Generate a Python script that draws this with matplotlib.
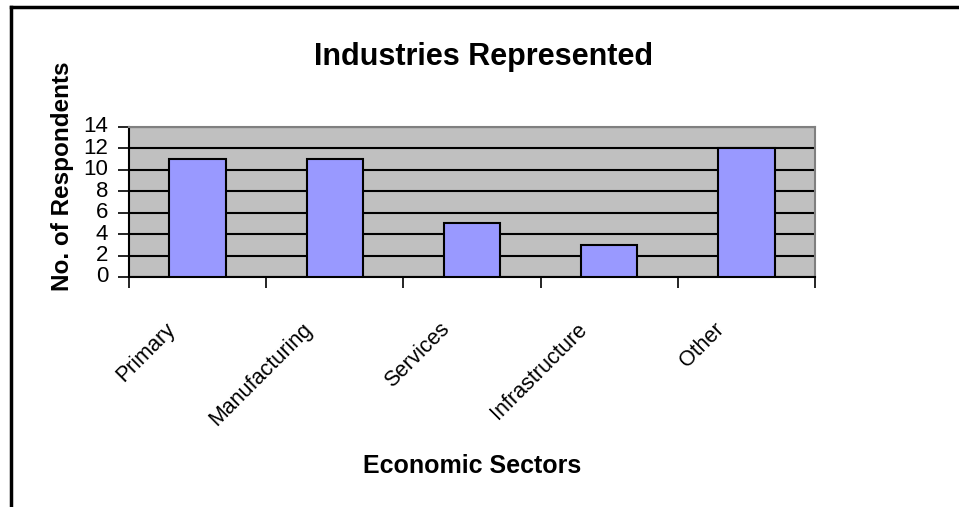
import matplotlib
matplotlib.use('Agg')
import matplotlib.pyplot as plt
import matplotlib.transforms as mtransforms
from matplotlib.lines import Line2D

# survey counts per sector
sectors = ['Primary', 'Manufacturing', 'Services', 'Infrastructure', 'Other']
respondents = [11, 11, 5, 3, 12]
y_ticks = [0, 2, 4, 6, 8, 10, 12, 14]

plt.rcParams['font.family'] = ['Liberation Sans', 'DejaVu Sans']

fig = plt.figure(figsize=(9.59, 5.07), dpi=100)
ax = fig.add_axes([129 / 959, 1 - 277 / 507, (815 - 129) / 959, (277 - 127) / 507])

# outer chart frame (only top and left edges are in view)
fig.add_artist(Line2D([11 / 959, 11 / 959], [0, 1 - 7 / 507], transform=fig.transFigure,
                      color='black', lw=2.5))
fig.add_artist(Line2D([11 / 959, 1], [1 - 7 / 507, 1 - 7 / 507], transform=fig.transFigure,
                      color='black', lw=2.5))

x = list(range(len(sectors)))
ax.set_facecolor('#C0C0C0')
ax.bar(x, respondents, width=0.41, color='#9999FF', edgecolor='black', linewidth=1.5, zorder=3)

ax.set_xlim(-0.5, len(sectors) - 0.5)
ax.set_ylim(0, 14)
ax.set_yticks(y_ticks)
ax.yaxis.grid(True, color='black', linewidth=1.5, zorder=1)
ax.set_axisbelow(True)

# tick marks between categories, labels at category centres
ax.set_xticks([i + 0.5 for i in range(-1, len(sectors))])
ax.set_xticklabels([])
ax.set_xticks(x, minor=True)
ax.set_xticklabels(sectors, minor=True, rotation=45, ha='right', va='top',
                   rotation_mode='anchor', fontsize=15.5)
ax.tick_params(axis='x', which='major', length=8, width=1.2, direction='out')
ax.tick_params(axis='x', which='minor', length=0, pad=30)
shift = mtransforms.ScaledTranslation(-0.33, 0, fig.dpi_scale_trans)
for lbl in ax.get_xticklabels(minor=True):
    lbl.set_transform(lbl.get_transform() + shift)

ax.tick_params(axis='y', length=8, width=1.2, direction='out', labelsize=16, pad=7)
for lbl in ax.get_yticklabels():
    lbl.set_va('center')

for side in ['left', 'bottom']:
    ax.spines[side].set_color('black')
    ax.spines[side].set_linewidth(1.5)
for side in ['top', 'right']:
    ax.spines[side].set_color('#808080')
    ax.spines[side].set_linewidth(1.5)

fig.text(484 / 959, 1 - 57 / 507, 'Industries Represented', ha='center', va='center',
         fontsize=22, fontweight='bold')
fig.text(62 / 959, 1 - 176 / 507, 'No. of Respondents', ha='center', va='center',
         rotation=90, fontsize=17.5, fontweight='bold')
fig.text(472 / 959, 1 - 466 / 507, 'Economic Sectors', ha='center', va='center',
         fontsize=18, fontweight='bold')

fig.savefig('out.png', dpi=100)
